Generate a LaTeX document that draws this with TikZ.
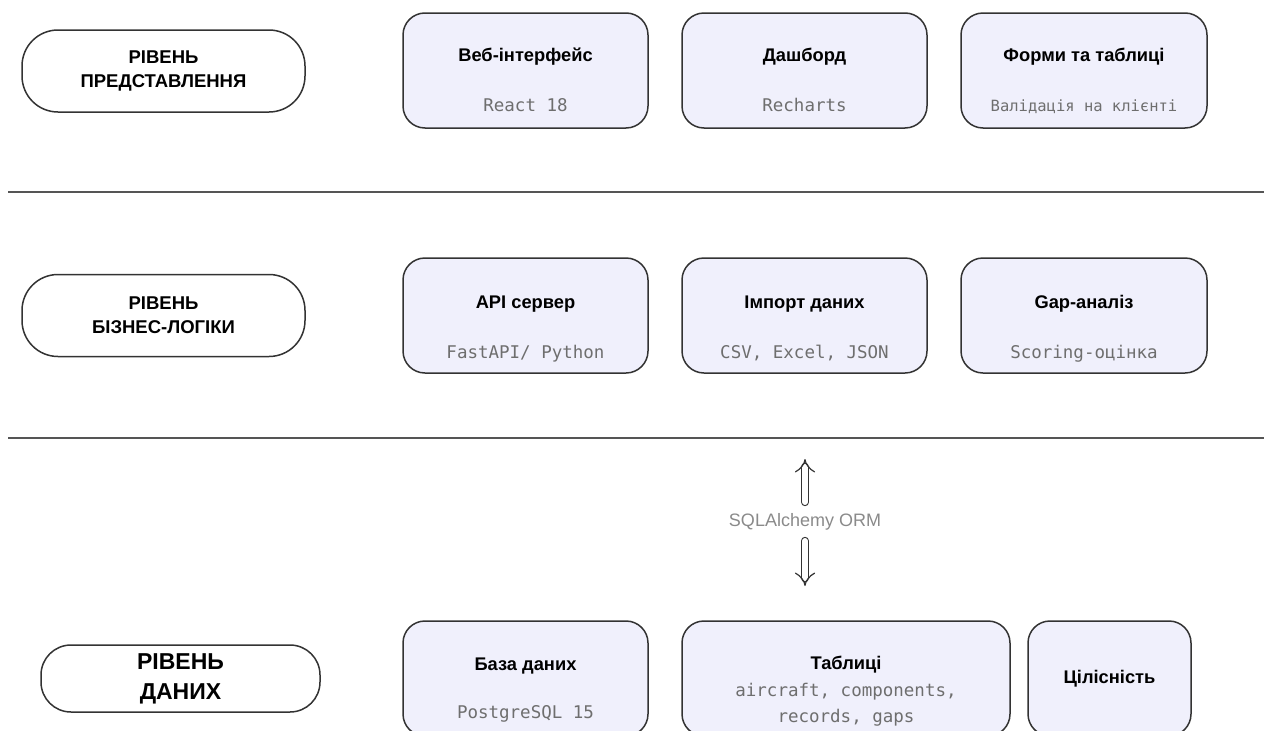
\documentclass[tikz,border=0pt]{standalone}
\usepackage{fontspec}
\setmainfont{Liberation Sans}
\newfontfamily\codefam{DejaVu Sans Mono}
\usetikzlibrary{arrows.meta}

\definecolor{linec}{HTML}{333333}
\definecolor{boxfill}{HTML}{F0F0FC}
\definecolor{subgray}{HTML}{6E6E6E}
\definecolor{sepline}{HTML}{555555}
\definecolor{ormgray}{HTML}{8A8A8A}

\newcommand\pillfont{\fontsize{18.5}{24}\selectfont\bfseries}
\newcommand\pillbigfont{\fontsize{23}{30}\selectfont\bfseries}
\newcommand\ttlfont{\fontsize{18.3}{20}\selectfont\bfseries}
\newcommand\codefont{\fontsize{17.5}{27}\selectfont\codefam}

\tikzset{
  layerpill/.style={draw=linec, line width=1.5pt, fill=white, rounded corners=36pt,
    minimum width=283pt, minimum height=82pt, align=center, font=\pillfont, inner sep=0pt},
  compbox/.style={draw=linec, line width=1.5pt, fill=boxfill, rounded corners=22pt,
    minimum height=115pt, inner sep=0pt},
  ttl/.style={font=\ttlfont, text=black, inner sep=0pt, text height=0.72em, text depth=0pt},
  codetxt/.style={font=\codefont, text=subgray, inner sep=0pt, text height=0.72em, text depth=0pt},
  sepstyle/.style={draw=sepline, line width=2pt},
  ormarrow/.style={draw=linec, line width=1.2pt, double=white, double distance=6pt,
    line cap=round, -{Implies[scale=1.15]}},
}

\begin{document}
\begin{tikzpicture}[x=1pt, y=-1pt]
  \useasboundingbox (0,0) rectangle (1264,731);

  % layer separators
  \coordinate (sepAL) at (8,192);   \coordinate (sepAR) at (1264,192);
  \coordinate (sepBL) at (8,438);   \coordinate (sepBR) at (1264,438);
  \draw[sepstyle] (sepAL) -- (sepAR);
  \draw[sepstyle] (sepBL) -- (sepBR);

  % presentation layer
  \node[layerpill] (pillA) at (163.5,71) {РІВЕНЬ\\ПРЕДСТАВЛЕННЯ};
  \node[compbox, minimum width=245pt] (web)   at (525.5,70.5) {};
  \node[compbox, minimum width=245pt] (dash)  at (804.5,70.5) {};
  \node[compbox, minimum width=246pt] (forms) at (1084,70.5) {};
  \node[ttl] (webT)   at (525.5,58) {Веб-інтерфейс};
  \node[codetxt] (webS) at (525.5,108) {React 18};
  \node[ttl] (dashT)  at (804.5,58) {Дашборд};
  \node[codetxt] (dashS) at (804.5,108) {Recharts};
  \node[ttl] (formsT) at (1084,58) {Форми та таблиці};
  \node[codetxt, font=\fontsize{15.5}{20}\selectfont\codefam] (formsS) at (1084,108) {Валідація на клієнті};

  % business logic layer
  \node[layerpill] (pillB) at (163.5,315.5) {РІВЕНЬ\\БІЗНЕС-ЛОГІКИ};
  \node[compbox, minimum width=245pt] (api)  at (525.5,315.5) {};
  \node[compbox, minimum width=245pt] (imp)  at (804.5,315.5) {};
  \node[compbox, minimum width=246pt] (gap)  at (1084,315.5) {};
  \node[ttl] (apiT) at (525.5,305) {API сервер};
  \node[codetxt] (apiS) at (525.5,355) {FastAPI/ Python};
  \node[ttl] (impT) at (804.5,305) {Імпорт даних};
  \node[codetxt] (impS) at (804.5,355) {CSV, Excel, JSON};
  \node[ttl] (gapT) at (1084,305) {Gap-аналіз};
  \node[codetxt] (gapS) at (1084,355) {Scoring-оцінка};

  % ORM link between business logic and data
  \node[font=\fontsize{18}{20}\selectfont, text=ormgray, inner sep=0pt] (orm) at (805,522) {SQLAlchemy ORM};
  \coordinate (ormUpTip) at (805,459);
  \coordinate (ormUpBase) at (805,502);
  \coordinate (ormDnBase) at (805,541);
  \coordinate (ormDnTip) at (805,586);
  \draw[ormarrow] (ormUpBase) -- (ormUpTip);
  \draw[ormarrow] (ormDnBase) -- (ormDnTip);

  % data layer
  \node[layerpill, minimum width=279pt, minimum height=67pt, rounded corners=30pt,
        font=\pillbigfont] (pillC) at (180.5,678.5) {РІВЕНЬ\\ДАНИХ};
  \node[compbox, minimum width=245pt] (db)    at (525.5,678.5) {};
  \node[compbox, minimum width=328pt] (tabs)  at (846,678.5) {};
  \node[compbox, minimum width=163pt] (integ) at (1109.5,678.5) {};
  \node[ttl] (dbT) at (525.5,667) {База даних};
  \node[codetxt] (dbS) at (525.5,715) {PostgreSQL 15};
  \node[ttl] (tabsT) at (846,666) {Таблиці};
  \node[codetxt] (tabsS1) at (846,693) {aircraft, components,};
  \node[codetxt] (tabsS2) at (846,719) {records, gaps};
  \node[ttl] (integT) at (1109.5,680) {Цілісність};
\end{tikzpicture}
\end{document}
